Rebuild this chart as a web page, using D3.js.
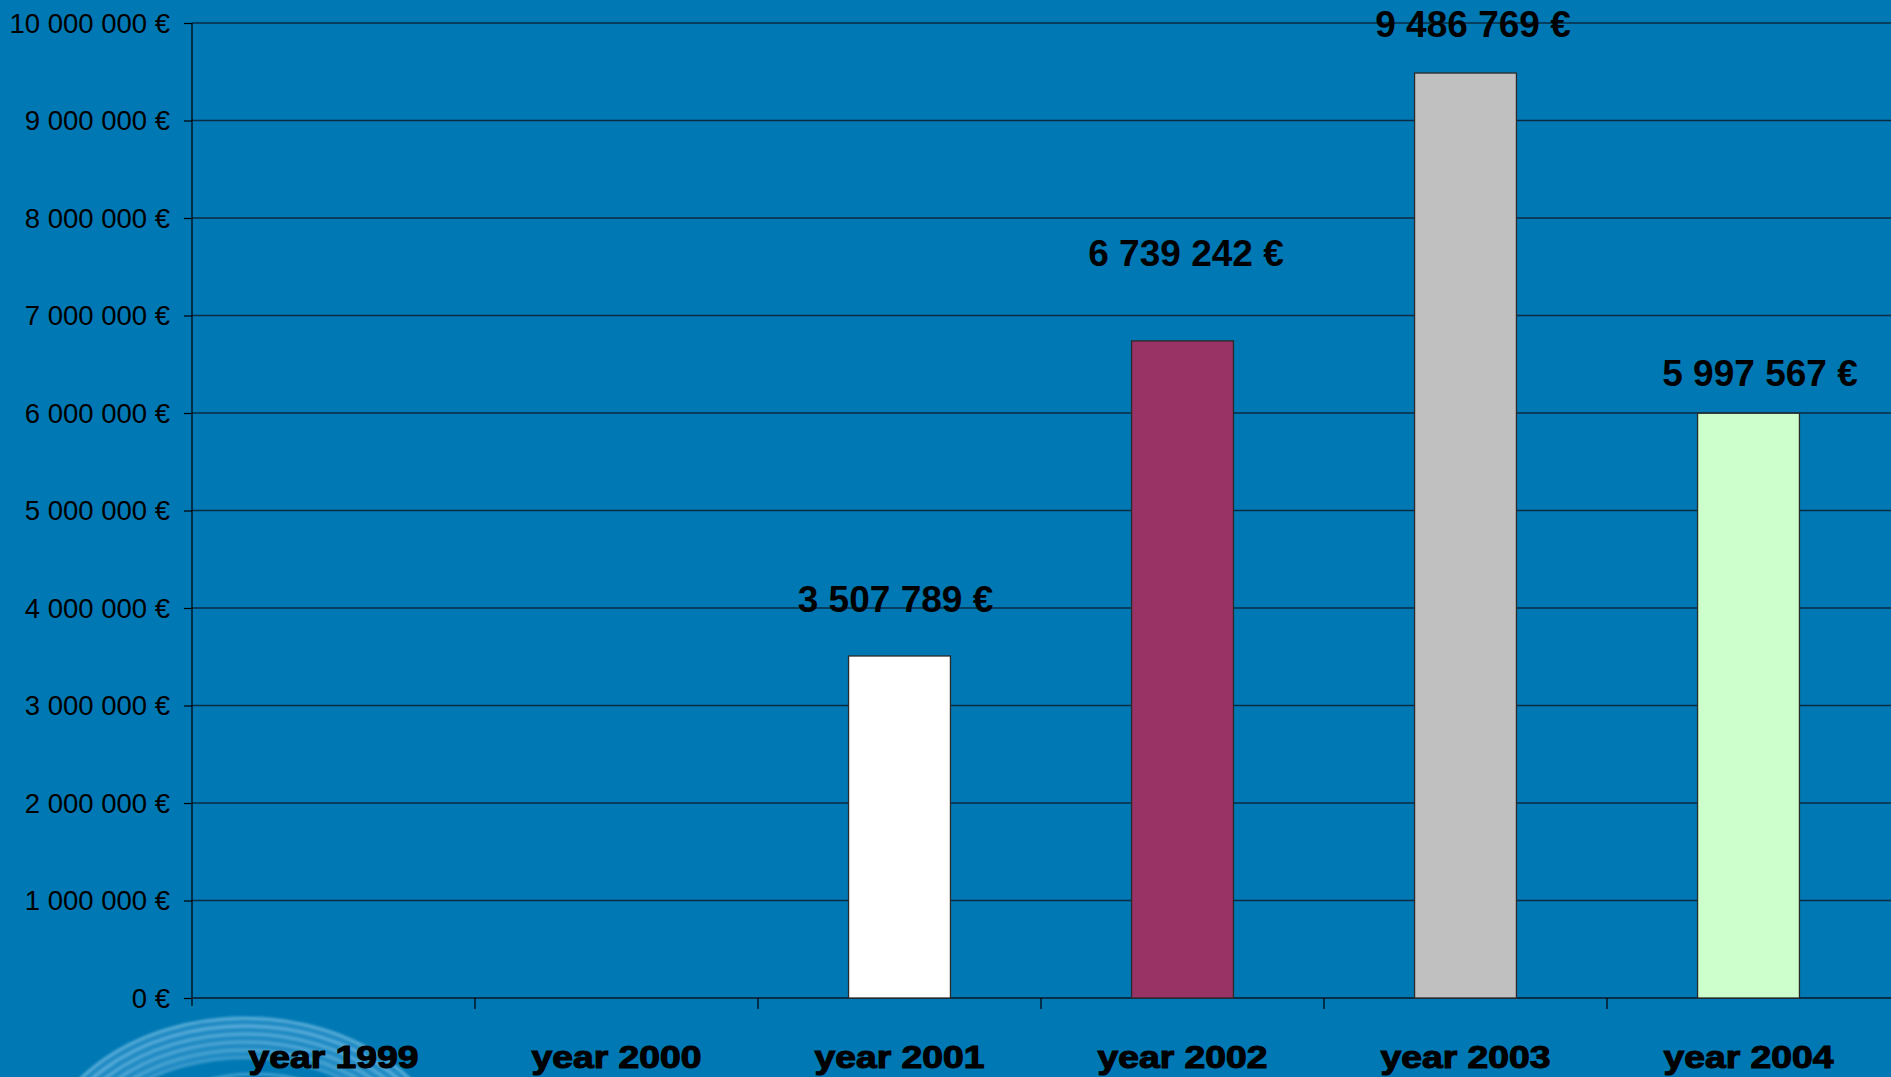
<!DOCTYPE html>
<html>
<head>
<meta charset="utf-8">
<script src="https://cdn.jsdelivr.net/npm/d3@7"></script>
<style>
  html, body { margin: 0; padding: 0; background: #0078B4; overflow: hidden; }
  svg { display: block; }
</style>
</head>
<body>
<svg id="chart" width="1891" height="1077"></svg>
<script>
// Yearly amounts (euro)
const categories = ["year 1999", "year 2000", "year 2001", "year 2002", "year 2003", "year 2004"];
const values = [null, null, 3507789, 6739242, 9486769, 5997567];
const yTickValues = [0, 1000000, 2000000, 3000000, 4000000, 5000000, 6000000, 7000000, 8000000, 9000000, 10000000];

// Styling
const barColors = ["#FFFFFF", "#FFFFFF", "#FFFFFF", "#993366", "#C0C0C0", "#CCFFCC"];
// Hand-placed value labels: [dx from bar centre, dy from bar top]
const labelNudge = [null, null, [-4, -44], [3.5, -75], [7.5, -36], [11.5, -27]];

const W = 1891, H = 1077;
const plot = { left: 192, right: 1890, top: 23, bottom: 998 };

const fmt = d3.format(",");
const money = v => fmt(v).replace(/,/g, " ") + " €";

const svg = d3.select("#chart");

const defs = svg.append("defs");
defs.append("filter").attr("id", "soft")
  .append("feGaussianBlur").attr("stdDeviation", 1.3);

// background
svg.append("rect").attr("width", W).attr("height", H).attr("fill", "#0078B4");

// decorative swirl in the lower-left corner
const swirl = svg.append("g").attr("fill", "none").attr("filter", "url(#soft)");
swirl.append("ellipse")
  .attr("cx", 245).attr("cy", 1178).attr("rx", 190).attr("ry", 140)
  .attr("stroke", "#5fb0e0").attr("stroke-opacity", 0.35).attr("stroke-width", 40);
const swirlRings = [0, 8, 16, 24, 32, 40];
swirlRings.forEach((d, i) => {
  swirl.append("ellipse")
    .attr("cx", 245).attr("cy", 1178)
    .attr("rx", 210 - d).attr("ry", 160 - d)
    .attr("stroke", "#9ad4f2")
    .attr("stroke-opacity", 0.45 - i * 0.04)
    .attr("stroke-width", 3.5);
});
[0, 8, 16].forEach((d, i) => {
  swirl.append("ellipse")
    .attr("cx", 255).attr("cy", 1192)
    .attr("rx", 150 - d).attr("ry", 118 - d)
    .attr("stroke", "#9ad4f2")
    .attr("stroke-opacity", 0.35 - i * 0.06)
    .attr("stroke-width", 3.5);
});

const x = d3.scaleBand().domain(categories).range([plot.left, plot.right]).padding(0);
const y = d3.scaleLinear().domain([0, 10000000]).range([plot.bottom, plot.top]);

// horizontal gridlines
svg.append("g")
  .selectAll("line")
  .data(yTickValues)
  .join("line")
  .attr("x1", plot.left).attr("x2", plot.right + 1)
  .attr("y1", d => y(d)).attr("y2", d => y(d))
  .attr("stroke", "#0a2b42")
  .attr("stroke-width", 1.6);

// y axis
const yAxis = d3.axisLeft(y).tickValues(yTickValues).tickSize(8).tickPadding(14)
  .tickFormat(d => money(d));
const gy = svg.append("g").attr("transform", `translate(${plot.left},0)`).call(yAxis);
gy.select(".domain").attr("stroke", "#000").attr("stroke-width", 1.2)
  .attr("d", `M0,${plot.top}V${plot.bottom + 8}`);
gy.selectAll(".tick line").attr("stroke", "#000").attr("stroke-width", 1.2);
gy.selectAll(".tick text")
  .attr("fill", "#000")
  .attr("font-family", "Arial, 'Liberation Sans', sans-serif")
  .attr("font-size", 27.5)
  .attr("dy", "0.34em");

// x axis (ticks between categories)
const gx = svg.append("g").attr("transform", `translate(0,${plot.bottom})`);
gx.append("line").attr("x1", plot.left).attr("x2", plot.right + 1)
  .attr("stroke", "#0a2b42").attr("stroke-width", 1.6);
gx.selectAll("line.tk")
  .data(categories.slice(1))
  .join("line").attr("class", "tk")
  .attr("x1", d => x(d)).attr("x2", d => x(d))
  .attr("y1", 0).attr("y2", 11)
  .attr("stroke", "#000").attr("stroke-width", 1.2);

// category labels
gx.selectAll("text.cat")
  .data(categories)
  .join("text").attr("class", "cat")
  .attr("x", d => x(d) + x.bandwidth() / 2)
  .attr("y", 70)
  .attr("text-anchor", "middle")
  .attr("font-family", "Arial, 'Liberation Sans', sans-serif")
  .attr("font-weight", "bold")
  .attr("font-size", 31)
  .attr("textLength", 170)
  .attr("lengthAdjust", "spacingAndGlyphs")
  .attr("fill", "#000")
  .attr("stroke", "#000")
  .attr("stroke-width", 1.1)
  .text(d => d);

// bars
const barW = x.bandwidth() * 0.36;
const rows = categories.map((c, i) => ({ c, v: values[i], color: barColors[i], nudge: labelNudge[i] }))
  .filter(d => d.v != null);

svg.append("g")
  .selectAll("rect")
  .data(rows)
  .join("rect")
  .attr("x", d => x(d.c) + (x.bandwidth() - barW) / 2)
  .attr("y", d => y(d.v))
  .attr("width", barW)
  .attr("height", d => y(0) - y(d.v))
  .attr("fill", d => d.color)
  .attr("stroke", "#2a2a2a")
  .attr("stroke-width", 1.3);

// value labels
svg.append("g")
  .selectAll("text")
  .data(rows)
  .join("text")
  .attr("x", d => x(d.c) + x.bandwidth() / 2 + d.nudge[0])
  .attr("y", d => y(d.v) + d.nudge[1])
  .attr("text-anchor", "middle")
  .attr("font-family", "Arial, 'Liberation Sans', sans-serif")
  .attr("font-weight", "bold")
  .attr("font-size", 37)
  .attr("fill", "#000")
  .text(d => money(d.v));
</script>
</body>
</html>
